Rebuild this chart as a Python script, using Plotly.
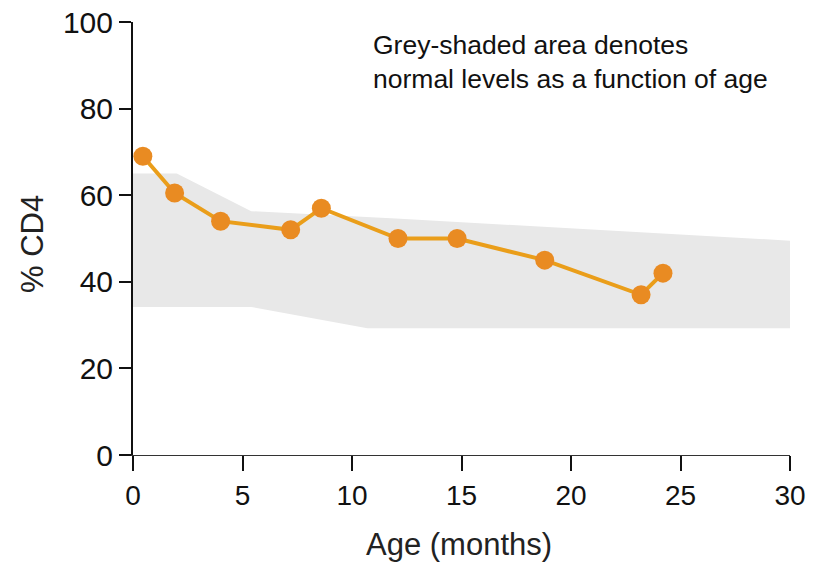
import plotly.graph_objects as go

# Patient CD4 measurements
age_months = [0.45, 1.9, 4.0, 7.2, 8.6, 12.1, 14.8, 18.8, 23.2, 24.2]
cd4_pct = [69, 60.5, 54, 52, 57, 50, 50, 45, 37, 42]

# Normal range band (upper and lower edges)
upper_x = [0, 2.0, 5.4, 12.0, 30]
upper_y = [65, 65, 56.3, 54.6, 49.5]
lower_x = [0, 5.4, 10.7, 30]
lower_y = [34.2, 34.2, 29.3, 29.3]

x_ticks = [0, 5, 10, 15, 20, 25, 30]
y_ticks = [0, 20, 40, 60, 80, 100]

band_x = upper_x + lower_x[::-1]
band_y = upper_y + lower_y[::-1]

fig = go.Figure()
fig.add_trace(go.Scatter(x=band_x, y=band_y, fill="toself", mode="none",
                         fillcolor="#E8E8E8", hoverinfo="skip", showlegend=False))
fig.add_trace(go.Scatter(x=age_months, y=cd4_pct, mode="lines+markers",
                         line=dict(color="#EA9E1A", width=4),
                         marker=dict(color="#E98B22", size=19),
                         showlegend=False, cliponaxis=False))

fig.update_layout(
    width=819, height=563,
    margin=dict(l=133, r=29, t=22, b=108),
    plot_bgcolor="white", paper_bgcolor="white",
    font=dict(family="Liberation Sans, Arial, sans-serif", color="#111"),
    xaxis=dict(range=[0, 30], tickvals=x_ticks, ticks="outside", ticklen=15,
               tickwidth=2, tickcolor="#111", showline=True, linecolor="#333",
               linewidth=1, showgrid=False, zeroline=False, automargin=False,
               ticklabeloverflow="allow", tickfont=dict(size=28)),
    yaxis=dict(range=[0, 100], tickvals=y_ticks, ticks="outside", ticklen=12,
               tickwidth=2, tickcolor="#111", showline=True, linecolor="#111",
               linewidth=2, showgrid=False, zeroline=False, automargin=False,
               ticklabeloverflow="allow", tickfont=dict(size=30)),
    annotations=[
        dict(text="Grey-shaded area denotes<br>normal levels as a function of age",
             xref="paper", yref="paper", x=0.362, y=0.985, xanchor="left",
             yanchor="top", align="left", showarrow=False,
             font=dict(size=26.5, color="#111")),
        dict(text="% CD4", xref="paper", yref="paper", x=-0.154, y=0.487,
             textangle=-90, showarrow=False, xanchor="center", yanchor="middle",
             font=dict(size=31, color="#222")),
        dict(text="Age (months)", xref="paper", yref="paper", x=0.496, y=-0.207,
             showarrow=False, xanchor="center", yanchor="middle",
             font=dict(size=31, color="#222")),
    ],
)

# remove the browser's default 8px body margin so the figure fills the window exactly
fig.write_html("out.html", config={"displayModeBar": False},
               post_script="document.body.style.margin='0';")
